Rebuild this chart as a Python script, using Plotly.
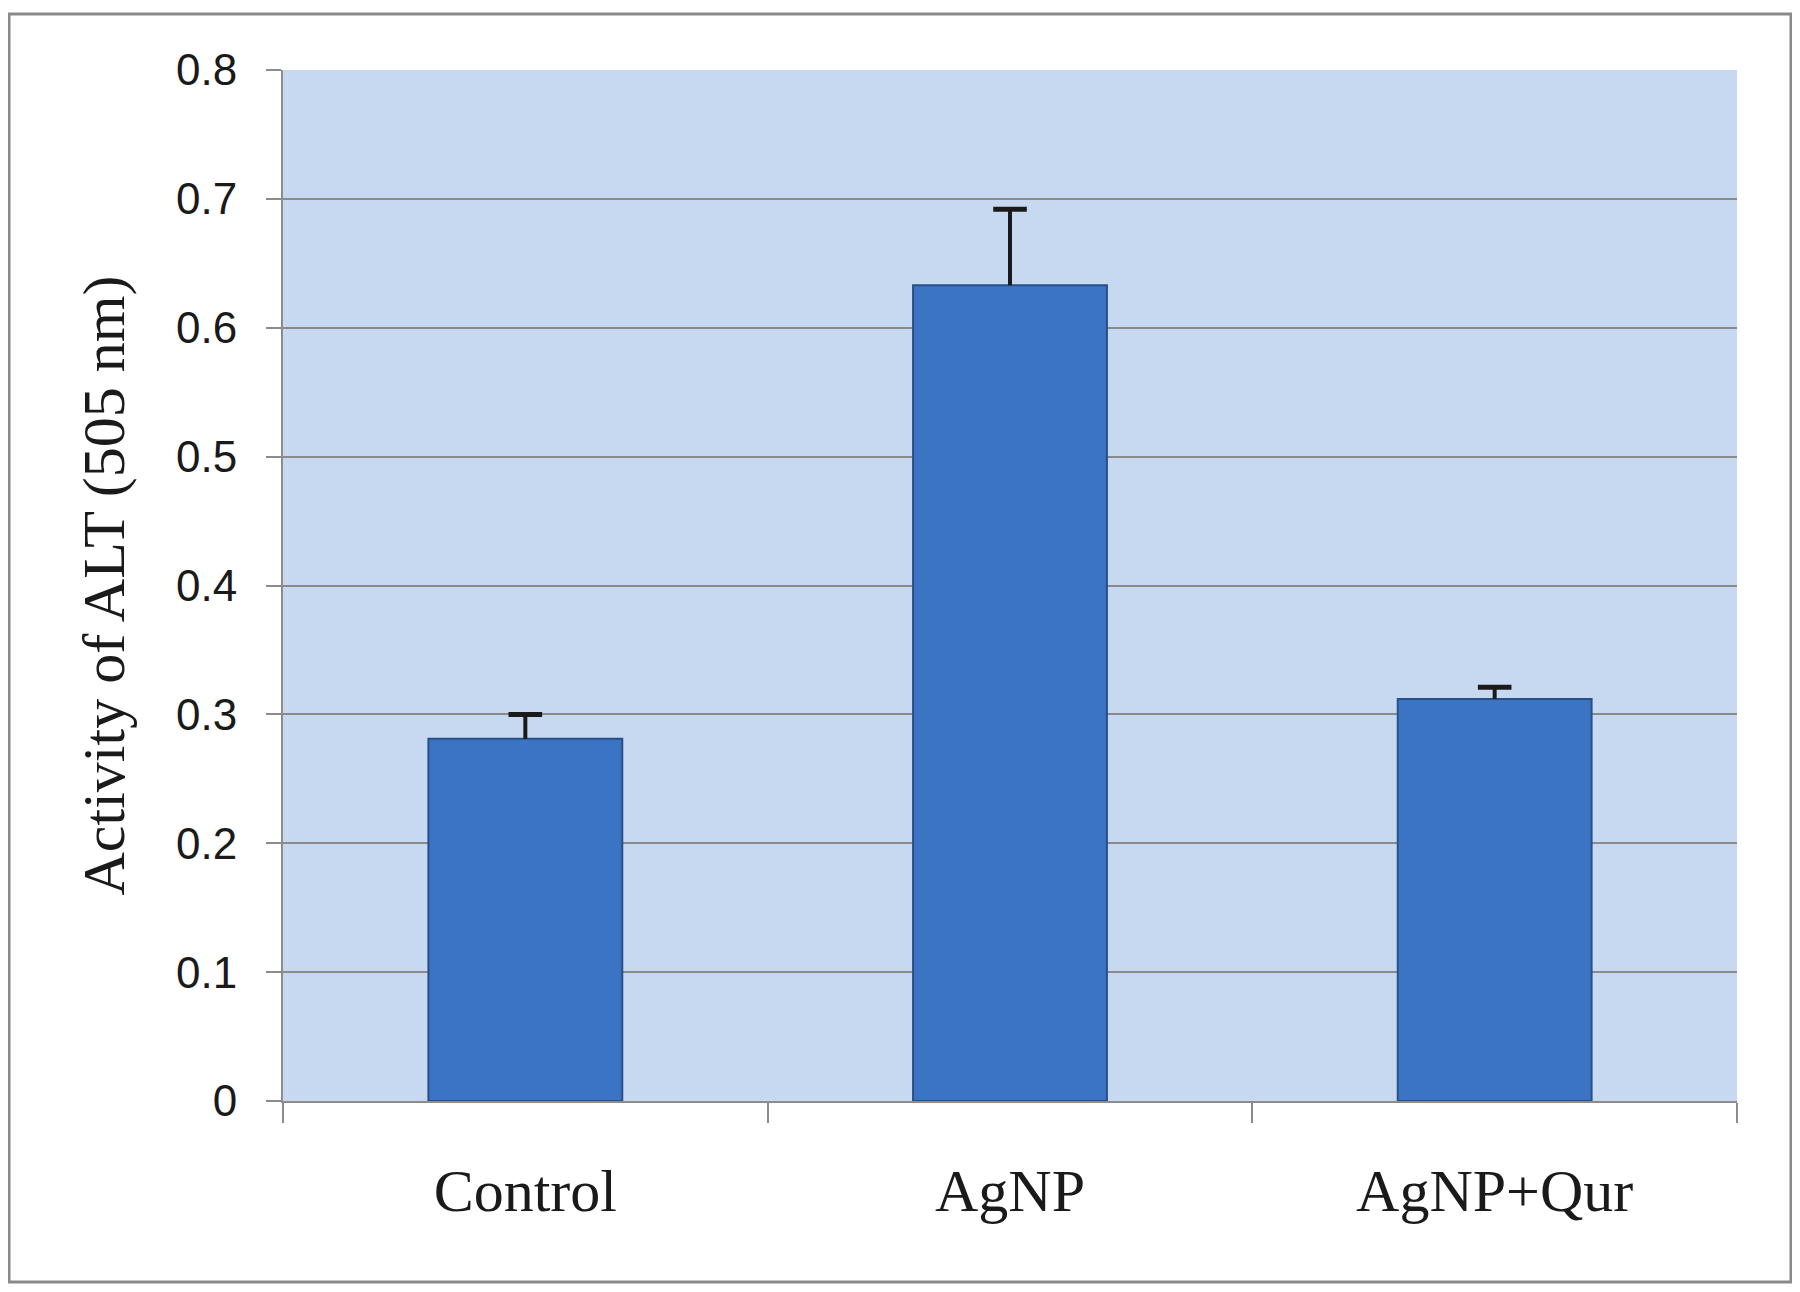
import plotly.graph_objects as go

categories = ["Control", "AgNP", "AgNP+Qur"]
values = [0.281, 0.633, 0.312]
errors = [0.019, 0.059, 0.009]
y_ticks = [0, 0.1, 0.2, 0.3, 0.4, 0.5, 0.6, 0.7, 0.8]
y_tick_labels = ["0", "0.1", "0.2", "0.3", "0.4", "0.5", "0.6", "0.7", "0.8"]

cap_y = [v + e for v, e in zip(values, errors)]

fig = go.Figure()
fig.add_trace(go.Bar(
    x=categories,
    y=values,
    width=0.4,
    marker=dict(color="#3a74c2", line=dict(color="#27508a", width=2)),
    error_y=dict(type="data", array=errors, arrayminus=[0] * len(errors),
                 symmetric=False, color="#1a1a1a", thickness=4, width=0),
    showlegend=False,
))
fig.add_trace(go.Scatter(
    x=categories,
    y=cap_y,
    mode="markers",
    marker=dict(symbol="line-ew", size=24, line=dict(color="#1a1a1a", width=5)),
    showlegend=False,
    hoverinfo="skip",
))

# page body has an 8px margin, so the figure is made 8px smaller
OFF = 8
W, H = 1800 - OFF, 1292 - OFF
L, T = 283 - OFF, 70 - OFF
R = W - (1737 - OFF)
B = H - (1101 - OFF)
pw, ph = W - L - R, H - T - B

def px_x(p):
    return (p - OFF - L) / pw

def px_y(p):
    return (H - B - (p - OFF)) / ph

fig.update_layout(
    width=W, height=H,
    margin=dict(l=L, r=R, t=T, b=B, autoexpand=False),
    paper_bgcolor="white",
    plot_bgcolor="#c6d9f0",
    xaxis=dict(
        tickson="boundaries",
        ticks="outside", ticklen=20, tickwidth=2, tickcolor="#8c8c8c",
        showline=True, linecolor="#8c8c8c", linewidth=2,
        showgrid=False,
        tickfont=dict(family="Liberation Serif", size=60, color="#1a1a1a"),
        ticklabelstandoff=36,
    ),
    yaxis=dict(
        range=[0, 0.8],
        tickvals=y_ticks, ticktext=y_tick_labels,
        ticks="outside", ticklen=15, tickwidth=2, tickcolor="#8c8c8c",
        showline=True, linecolor="#8c8c8c", linewidth=2,
        showgrid=True, gridcolor="#8a8a8a", gridwidth=2,
        zeroline=False,
        tickfont=dict(family="Liberation Sans", size=44, color="#1a1a1a"),
        ticklabelstandoff=20,
        title=dict(text="Activity of ALT (505 nm)",
                   font=dict(family="Liberation Serif", size=60, color="#1a1a1a"),
                   standoff=32),
    ),
    shapes=[dict(type="rect", xref="paper", yref="paper",
                 x0=px_x(9), x1=px_x(1791), y0=px_y(1282), y1=px_y(14),
                 line=dict(color="#8a8a8a", width=3), fillcolor="rgba(0,0,0,0)",
                 layer="below")],
)

fig.write_html("out.html")
